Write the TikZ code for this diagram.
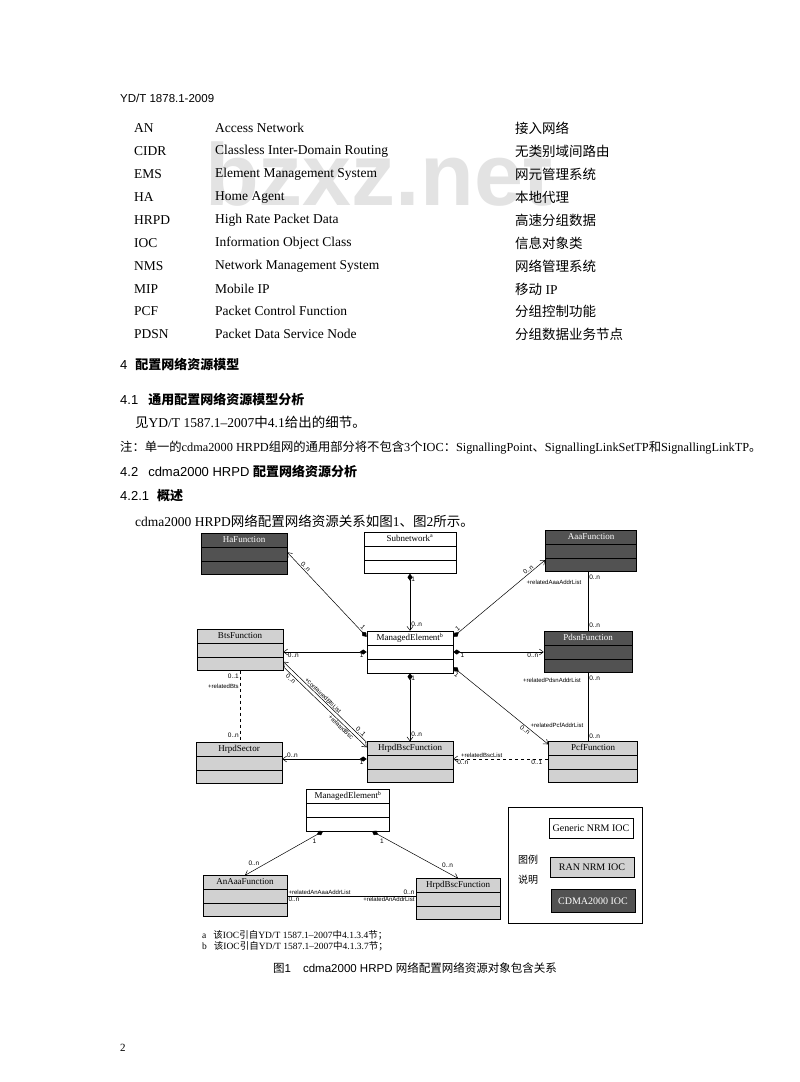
\documentclass[tikz,border=0pt]{standalone}
\usepackage{fontspec}
\setmainfont{Liberation Serif}
\setsansfont{Liberation Sans}
\newfontfamily\cjk{Noto Sans CJK SC}
\usetikzlibrary{shapes.multipart,arrows.meta}
\newcommand{\zh}[1]{{\cjk #1}}
\newcommand{\ioc}[1]{\strut #1\nodepart{second}\rule[-2pt]{0pt}{10pt}\nodepart{third}\rule[-2pt]{0pt}{10pt}}

\begin{document}
\begin{tikzpicture}[
  x=1pt, y=-1pt,
  txt/.style={anchor=west, inner sep=0pt, font=\fontsize{13.5}{16}\selectfont},
  small/.style={anchor=west, inner sep=0pt, font=\fontsize{12.3}{14}\selectfont},
  head/.style={anchor=west, inner sep=0pt, font=\sffamily\fontsize{13}{15}\selectfont},
  cls/.style={draw, rectangle split, rectangle split parts=3, text width=80pt, align=center,
    inner xsep=3pt, inner ysep=1.5pt, font=\fontsize{9}{10}\selectfont, line width=0.6pt},
  gen/.style={cls, fill=white},
  ran/.style={cls, fill=black!18},
  cdma/.style={cls, fill=black!68, text=white},
  mult/.style={font=\sffamily\fontsize{6.5}{7}\selectfont, inner sep=1pt},
  role/.style={font=\sffamily\fontsize{6}{7}\selectfont, inner sep=1pt},
  comp/.style={{Diamond[length=7pt,width=5pt]}-{Straight Barb[length=4pt,width=6pt]}, line width=0.5pt},
  assoc/.style={line width=0.5pt},
  nav/.style={-{Straight Barb[length=4pt,width=6pt]}, line width=0.5pt},
  legbox/.style={draw, line width=0.6pt, minimum width=84pt, minimum height=20pt, inner sep=1pt, font=\fontsize{10}{12}\selectfont}
]
\useasboundingbox (0,0) rectangle (800,1082);
\fill[white] (0,0) rectangle (800,1082);

% watermark
\node[anchor=base west, inner sep=0pt, text=black!11, font=\sffamily\bfseries\fontsize{88}{90}\selectfont] (mark) at (205,205) {bzxz.net};

% header and abbreviations
\node[anchor=west, inner sep=0pt, font=\sffamily\fontsize{11.5}{13}\selectfont] (doc) at (120,98) {YD/T 1878.1-2009};
\node[txt] (a1) at (134,128) {AN};   \node[txt] (b1) at (215,128) {Access Network};                 \node[txt] (c1) at (515,128) {\zh{接入网络}};
\node[txt] (a2) at (134,151) {CIDR}; \node[txt] (b2) at (215,151) {Classless Inter-Domain Routing}; \node[txt] (c2) at (515,151) {\zh{无类别域间路由}};
\node[txt] (a3) at (134,174) {EMS};  \node[txt] (b3) at (215,174) {Element Management System};      \node[txt] (c3) at (515,174) {\zh{网元管理系统}};
\node[txt] (a4) at (134,197) {HA};   \node[txt] (b4) at (215,197) {Home Agent};                     \node[txt] (c4) at (515,197) {\zh{本地代理}};
\node[txt] (a5) at (134,220) {HRPD}; \node[txt] (b5) at (215,220) {High Rate Packet Data};          \node[txt] (c5) at (515,220) {\zh{高速分组数据}};
\node[txt] (a6) at (134,243) {IOC};  \node[txt] (b6) at (215,243) {Information Object Class};       \node[txt] (c6) at (515,243) {\zh{信息对象类}};
\node[txt] (a7) at (134,266) {NMS};  \node[txt] (b7) at (215,266) {Network Management System};      \node[txt] (c7) at (515,266) {\zh{网络管理系统}};
\node[txt] (a8) at (134,289) {MIP};  \node[txt] (b8) at (215,289) {Mobile IP};                      \node[txt] (c8) at (515,289) {\zh{移动}~IP};
\node[txt] (a9) at (134,311) {PCF};  \node[txt] (b9) at (215,311) {Packet Control Function};        \node[txt] (c9) at (515,311) {\zh{分组控制功能}};
\node[txt] (a10) at (134,334) {PDSN}; \node[txt] (b10) at (215,334) {Packet Data Service Node};     \node[txt] (c10) at (515,334) {\zh{分组数据业务节点}};

% clauses
\node[head] (h4) at (120,364) {4\hspace{8pt}\zh{\bfseries 配置网络资源模型}};
\node[head] (h41) at (120,400) {4.1\hspace{10pt}\zh{\bfseries 通用配置网络资源模型分析}};
\node[txt] (p41) at (135,422) {\zh{见}YD/T 1587.1--2007\zh{中}4.1\zh{给出的细节。}};
\node[small] (note) at (120,448) {\zh{注：单一的}cdma2000 HRPD\zh{组网的通用部分将不包含}3\zh{个}IOC\zh{：}SignallingPoint\zh{、}SignallingLinkSetTP\zh{和}SignallingLinkTP\zh{。}};
\node[head] (h42) at (120,471) {4.2\hspace{10pt}cdma2000 HRPD \zh{\bfseries 配置网络资源分析}};
\node[head] (h421) at (120,496) {4.2.1\hspace{8pt}\zh{\bfseries 概述}};
\node[txt] (p421) at (135,521) {cdma2000 HRPD\zh{网络配置网络资源关系如图}1\zh{、图}2\zh{所示。}};

% classes
\node[cdma] (ha) at (244,554) {\ioc{HaFunction}};
\node[gen, text width=86pt] (subnet) at (410,553) {\ioc{Subnetwork\textsuperscript{a}}};
\node[cdma, text width=85pt] (aaa) at (591,551) {\ioc{AaaFunction}};
\node[gen] (me) at (410,652) {\ioc{ManagedElement\textsuperscript{b}}};
\node[ran] (bts) at (240,650) {\ioc{BtsFunction}};
\node[cdma, text width=82pt] (pdsn) at (588,652) {\ioc{PdsnFunction}};
\node[ran] (sector) at (239,763) {\ioc{HrpdSector}};
\node[ran] (bsc) at (410,762) {\ioc{HrpdBscFunction}};
\node[ran, text width=83pt] (pcf) at (593,762) {\ioc{PcfFunction}};

% containment and associations
\draw[comp] ([yshift=-6pt]me.north west) -- node[mult, pos=0.08, sloped, above] {1} node[mult, pos=0.8, sloped, above] {0..n} ([yshift=-19pt]ha.north east);
\draw[comp] (subnet.south) -- node[mult, pos=0.1, right] {1} node[mult, pos=0.88, right] {0..n} (me.north);
\draw[comp] ([yshift=-6pt]me.north east) -- node[mult, pos=0.07, sloped, above] {1} node[mult, pos=0.84, sloped, above] {0..n} ([yshift=-9pt]aaa.west);
\node[role] (raaa) at (554,582) {+relatedAaaAddrList};
\draw[assoc] (pdsn.north |- aaa.south) -- node[mult, pos=0.1, right] {0..n} node[mult, pos=0.9, right] {0..n} (pdsn.north);
\draw[comp] (me.west) -- node[mult, pos=0.06, below] {1} node[mult, pos=0.88, below] {0..n} (me.west -| bts.east);
\draw[comp] (me.east) -- node[mult, pos=0.1, below] {1} node[mult, pos=0.88, below] {0..n} (me.east -| pdsn.west);
\draw[comp] ([yshift=6pt]me.south east) -- node[mult, pos=0.06, sloped, below] {1} node[mult, pos=0.78, sloped, below] {0..n} ([yshift=-3pt]pcf.north west);
\node[role] (rpcf) at (557,725) {+relatedPcfAddrList};
\draw[assoc] (pdsn.south) -- node[mult, pos=0.08, right] {0..n} node[mult, pos=0.92, right] {0..n} (pdsn.south |- pcf.north);
\node[role] (rpdsn) at (552,680) {+relatedPdsnAddrList};
\draw[comp] (me.south) -- node[mult, pos=0.08, right] {1} node[mult, pos=0.9, right] {0..n} (bsc.north);
\draw[assoc, dashed] (bts.south) -- node[mult, pos=0.08, left] {0..1} node[role, pos=0.22, left] {+relatedBts} node[mult, pos=0.9, left] {0..n} (bts.south |- sector.north);
\draw[{Straight Barb[length=4pt,width=6pt]}-, line width=0.5pt] ([yshift=9pt]bts.south east) -- node[role, pos=0.45, sloped, above] {+containedBtsList} node[mult, pos=0.9, sloped, above] {0..1} ([yshift=-1pt]bsc.north west);
\draw[nav] ([yshift=4pt]bts.south east) -- node[mult, pos=0.12, sloped, below] {0..n} node[role, pos=0.72, sloped, below] {+relatedBsc} ([yshift=-6pt]bsc.north west);
\draw[comp] ([yshift=3pt]bsc.west) -- node[mult, pos=0.06, below] {1} node[mult, pos=0.88, above] {0..n} ([yshift=3pt]bsc.west -| sector.east);
\draw[nav, dashed] ([yshift=3pt]pcf.west) -- node[mult, pos=0.12, below] {0..1} node[role, pos=0.7, above] {+relatedBscList} node[mult, pos=0.9, below] {0..n} ([yshift=3pt]pcf.west -| bsc.east);

% second diagram
\node[gen, text width=77pt] (me2) at (348,810) {\ioc{ManagedElement\textsuperscript{b}}};
\node[ran, text width=78pt] (anaaa) at (245,896) {\ioc{AnAaaFunction}};
\node[ran, text width=78pt] (bsc2) at (458,899) {\ioc{HrpdBscFunction}};
\draw[comp] ([xshift=-25pt]me2.south) -- node[mult, pos=0.15, below right] {1} node[mult, pos=0.8, above left] {0..n} (anaaa.north);
\draw[comp] ([xshift=24pt]me2.south) -- node[mult, pos=0.15, below left] {1} node[mult, pos=0.8, above right] {0..n} (bsc2.north);
\draw[assoc] (anaaa.east) -- node[role, pos=0, above right] {+relatedAnAaaAddrList} node[mult, pos=0, below right] {0..n} node[mult, pos=1, above left] {0..n} node[role, pos=1, below left] {+relatedAnAddrList} (anaaa.east -| bsc2.west);

% legend
\node[draw, line width=0.6pt, minimum width=134pt, minimum height=116pt, inner sep=0pt] (legend) at (575,865) {};
\node[legbox, fill=white] (lgen) at (591,828) {Generic NRM IOC};
\node[legbox, fill=black!18] (lran) at (592,867) {RAN NRM IOC};
\node[legbox, fill=black!68, text=white, minimum height=23pt] (lcdma) at (593,901) {CDMA2000 IOC};
\node[anchor=west, inner sep=0pt, font=\fontsize{10}{12}\selectfont] (leg1) at (518,860) {\zh{图例}};
\node[anchor=west, inner sep=0pt, font=\fontsize{10}{12}\selectfont] (leg2) at (518,880) {\zh{说明}};

% notes and caption
\node[anchor=west, inner sep=0pt, font=\fontsize{9.5}{11}\selectfont] (na) at (202,935) {a\hspace{7pt}\zh{该}IOC\zh{引自}YD/T 1587.1--2007\zh{中}4.1.3.4\zh{节；}};
\node[anchor=west, inner sep=0pt, font=\fontsize{9.5}{11}\selectfont] (nb) at (202,946) {b\hspace{7pt}\zh{该}IOC\zh{引自}YD/T 1587.1--2007\zh{中}4.1.3.7\zh{节；}};
\node[inner sep=0pt, font=\sffamily\fontsize{11.5}{13}\selectfont] (cap) at (415,968) {\zh{图}1\hspace{12pt}cdma2000 HRPD \zh{网络配置网络资源对象包含关系}};
\node[anchor=west, inner sep=0pt, font=\fontsize{11}{13}\selectfont] (page) at (120,1048) {2};
\end{tikzpicture}
\end{document}
